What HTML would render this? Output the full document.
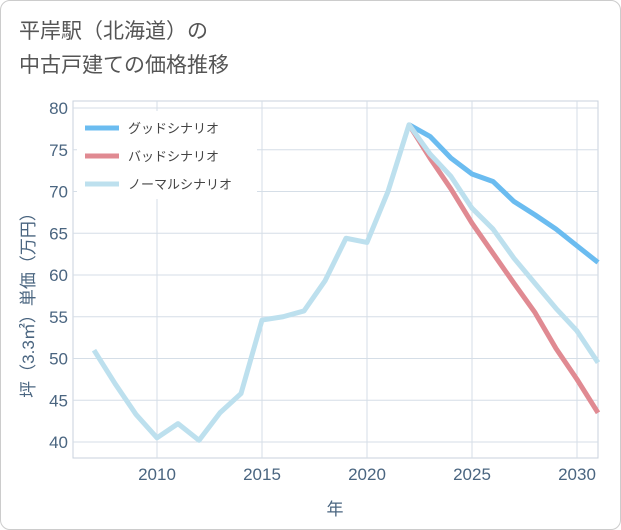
<!DOCTYPE html>
<html><head><meta charset="utf-8"><style>
body{margin:0;background:#fff;font-family:"Liberation Sans","Noto Sans CJK JP",sans-serif;}
#wrap{position:relative;width:619px;height:528px;border:1px solid #ccc;border-radius:10px;overflow:hidden;}
#title{position:absolute;left:18px;top:14px;font-size:21px;line-height:34px;color:#555;}
</style></head><body>
<div id="wrap">
<div id="title">平岸駅（北海道）の<br>中古戸建ての価格推移</div>
<svg id="chart" width="621" height="530" style="position:absolute;left:0;top:0"></svg>
</div>
<script>
const years=[2007,2008,2009,2010,2011,2012,2013,2014,2015,2016,2017,2018,2019,2020,2021,2022,2023,2024,2025,2026,2027,2028,2029,2030,2031];
const normalVals=[51,47,43.3,40.5,42.2,40.2,43.5,45.8,54.6,55,55.7,59.3,64.4,63.9,70,78,74.5,71.8,68,65.5,62,59,56,53.3,49.5];
const futureYears=[2022,2023,2024,2025,2026,2027,2028,2029,2030,2031];
const goodVals=[78,76.6,74,72.1,71.2,68.8,67.2,65.5,63.5,61.5];
const badVals=[78,74,70.3,66.2,62.6,59,55.5,51.2,47.5,43.5];
const yTicks=[40,45,50,55,60,65,70,75,80];
const xTicks=[2010,2015,2020,2025,2030];
const NS='http://www.w3.org/2000/svg';
const svg=document.getElementById('chart');
const L=72,R=597,T=100,B=457;
const xs=v=>156+(v-2010)*21;
const ys=v=>441-(v-40)*8.35;
function mk(t,a){const e=document.createElementNS(NS,t);for(const k in a)e.setAttribute(k,a[k]);svg.appendChild(e);return e;}
let bg=mk('rect',{x:L,y:T,width:R-L,height:B-T,fill:'#fff',stroke:'#c8d2dc'});


yTicks.forEach(v=>{let g=mk('line',{x1:L,x2:R,y1:ys(v),y2:ys(v),stroke:'#d5dee7'});


let t=mk('text',{x:L-5,y:ys(v)+6,'text-anchor':'end','font-size':17,fill:'#4a6580'});t.textContent=v;

});
xTicks.forEach(v=>{let g=mk('line',{x1:xs(v),x2:xs(v),y1:T,y2:B,stroke:'#d5dee7'});


let t=mk('text',{x:xs(v),y:B+22,'text-anchor':'middle','font-size':17,fill:'#4a6580'});t.textContent=v;

});
function line(xv,yv,c,n){let p=mk('polyline',{points:xv.map((x,i)=>xs(x)+','+ys(yv[i])).join(' '),fill:'none',stroke:c,'stroke-width':5,'stroke-linejoin':'round'});

}
line(futureYears,goodVals,'#6bbcf0','good-scenario-line');
line(futureYears,badVals,'#e08a92','bad-scenario-line');
line(years,normalVals,'#bde0ee','normal-scenario-line');
const leg=[['グッドシナリオ','#6bbcf0'],['バッドシナリオ','#e08a92'],['ノーマルシナリオ','#bde0ee']];
let lb=mk('rect',{x:76,y:110,width:180,height:88,fill:'#fff'});


leg.forEach((d,i)=>{let y=127+i*28;
let l=mk('line',{x1:84,x2:118,y1:y,y2:y,stroke:d[1],'stroke-width':5});


let t=mk('text',{x:127,y:y+5,'font-size':13,fill:'#444'});t.textContent=d[0];

});
let xt=mk('text',{x:334,y:514,'text-anchor':'middle','font-size':17,fill:'#4a6580'});xt.textContent='年';


let yt=mk('text',{x:0,y:0,'text-anchor':'middle','font-size':17,fill:'#4a6580',transform:'translate(33,300) rotate(-90)'});yt.textContent='坪（3.3㎡）単価（万円）';


</script>
</body></html>
